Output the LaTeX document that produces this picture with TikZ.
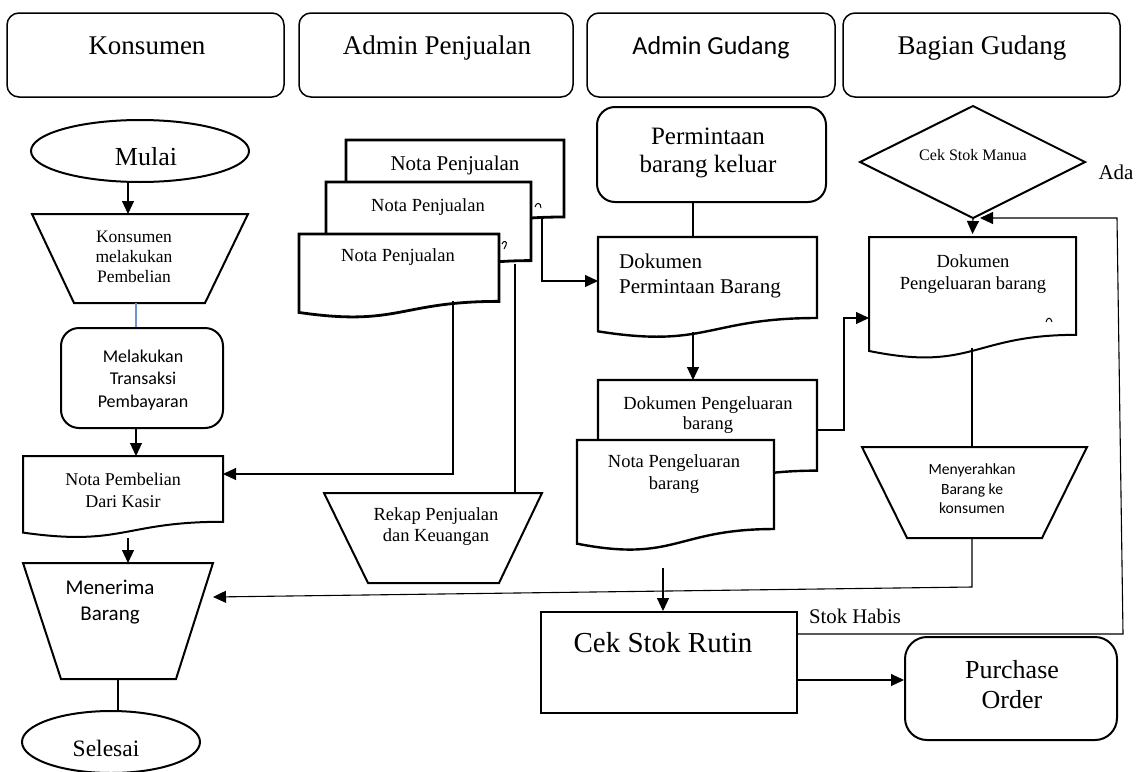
\documentclass[tikz,border=0pt]{standalone}
\usepackage{fontspec}
\setmainfont{Liberation Serif}
\newfontfamily\calfont{Carlito}
\usetikzlibrary{arrows.meta,calc,shapes.geometric}

\definecolor{bluelink}{RGB}{114,147,203}

% document symbol with a wavy bottom edge; the named node covers its flat part
\newcommand\docshape[6][shapeline]{%
  \path[#1] (#3,#4) -- (#5,#4) -- (#5,{#4+0.802*#6})
    .. controls ({(#3+#5)/2},{#4+0.802*#6}) and ({(#3+#5)/2},{#4+1.107*#6}) .. (#3,{#4+0.934*#6}) -- cycle;
  \node[anchorbox, minimum width={(#5-#3)*1pt}, minimum height={0.802*#6*1pt}] (#2) at ({(#3+#5)/2},{#4+0.401*#6}) {};}

% manual-operation symbol (wide top, narrow bottom)
\newcommand\trapshape[7]{%
  \path[shapeline] (#2,#4) -- (#3,#4) -- (#6,#7) -- (#5,#7) -- cycle;
  \node[anchorbox, minimum width={(#3-#2)*1pt}, minimum height={(#7-#4)*1pt}] (#1) at ({(#2+#3)/2},{(#4+#7)/2}) {};}

\tikzset{
  anchorbox/.style={inner sep=0pt, outer sep=0pt, draw=none},
  shapeline/.style={draw=black, line width=2pt, fill=white},
  heavy/.style={draw=black, line width=2.8pt, fill=white},
  header/.style={draw=black, line width=1.5pt, rounded corners=12pt, inner sep=0pt},
  link/.style={draw=black, line width=1.1pt},
  arr/.style={link, -{Triangle[length=13pt,width=12pt]}},
  hdserif/.style={font=\fontsize{27}{32}\selectfont, anchor=base, inner sep=0pt},
  hdsans/.style={font=\calfont\fontsize{26}{31}\selectfont, anchor=base, inner sep=0pt},
  txt/.style={align=center, inner sep=0pt},
  squiggle/.style={draw=black, line width=1pt},
}

\begin{document}
\begin{tikzpicture}[x=1pt, y=-1pt]
\useasboundingbox (0,0) rectangle (1137,771);

% ---------- lane headers ----------
\node[header, minimum width=277pt, minimum height=84pt] (hK)  at (145.5,55) {};
\node[header, minimum width=274pt, minimum height=84pt] (hAP) at (436,55) {};
\node[header, minimum width=248pt, minimum height=84pt] (hAG) at (711,55) {};
\node[header, minimum width=277pt, minimum height=84pt] (hBG) at (981.5,55) {};
\node[hdserif] (hK-t)  at (147,54) {Konsumen};
\node[hdserif] (hAP-t) at (437,54) {Admin Penjualan};
\node[hdsans]  (hAG-t) at (711,54) {Admin Gudang};
\node[hdserif] (hBG-t) at (982,54) {Bagian Gudang};

% ---------- Konsumen ----------
\node[ellipse, shapeline, minimum width=218pt, minimum height=62pt, inner sep=0pt] (mulai) at (140,151) {};
\node[txt, font=\fontsize{26}{30}\selectfont] (mulai-t) at (146,157) {Mulai};
\trapshape{beli}{32}{248}{214}{74}{205}{303}
\node[txt, font=\fontsize{17.5}{20}\selectfont] (beli-t) at (134,257) {Konsumen\\melakukan\\Pembelian};
\node[shapeline, rounded corners=18pt, minimum width=162pt, minimum height=100pt] (bayar) at (142,378) {};
\node[txt, font=\calfont\fontsize{18}{22.5}\selectfont] (bayar-t) at (143,380) {Melakukan\\Transaksi\\Pembayaran};
\docshape{nbeli}{23}{456}{223}{82}
\node[txt, font=\fontsize{18}{22}\selectfont] (nbeli-t) at (123,490) {Nota Pembelian\\Dari Kasir};
\trapshape{terima}{23}{213}{563}{61}{176}{679}
\node[txt, font=\calfont\fontsize{21}{26}\selectfont] (terima-t) at (110,602) {Menerima\\Barang};
\node[ellipse, shapeline, minimum width=178pt, minimum height=62pt, inner sep=0pt] (selesai) at (111,742) {};
\node[txt, font=\fontsize{23.5}{28}\selectfont] (selesai-t) at (106,748) {Selesai};

\draw[arr] (mulai.south -| 128,0) -- (beli.north -| 128,0);
\draw[link, draw=bluelink] (beli.south -| 136,0) -- (bayar.north -| 136,0);
\draw[arr] (bayar.south -| 136,0) -- (nbeli.north -| 136,0);
\draw[arr] (nbeli.south -| 128,0) ++(0,16) -- (terima.north -| 128,0);
\draw[link] (terima.south -| 118,0) -- (selesai.north -| 118,0);

% ---------- Admin Penjualan ----------
\docshape[heavy]{np3}{346}{140}{564}{96}
\node[txt, font=\fontsize{21}{24}\selectfont] (np3-t) at (455,165) {Nota Penjualan};
\draw[squiggle] (535,207) .. controls (536,202) and (541,202) .. (541,208);
\docshape[heavy]{np2}{326}{182}{531}{98}
\node[txt, font=\fontsize{18.5}{22}\selectfont] (np2-t) at (428,207) {Nota Penjualan};
\draw[squiggle] (502,244) .. controls (503,240) and (508,241) .. (506,245) -- (504,249);
\docshape[heavy]{np1}{299}{234}{499}{84}
\node[txt, font=\fontsize{18.5}{22}\selectfont] (np1-t) at (398,257) {Nota Penjualan};
\trapshape{rekap}{324}{542}{493}{368}{499}{583}
\node[txt, font=\fontsize{18.5}{21}\selectfont] (rekap-t) at (436,527) {Rekap Penjualan\\dan Keuangan};

\draw[arr] (np1.south -| 453,0) |- (nbeli.east |- 0,474);
\draw[link] (np2.south -| 515,0) ++(0,3) -- (rekap.north -| 515,0);

% ---------- Admin Gudang ----------
\node[shapeline, rounded corners=18pt, minimum width=229pt, minimum height=95pt] (minta) at (711.5,154.5) {};
\node[txt, font=\fontsize{25}{28}\selectfont] (minta-t) at (708,153) {Permintaan\\barang keluar};
\docshape[shapeline, line width=2.4pt]{dpb}{598}{237}{817}{101}
\node[inner sep=0pt, align=left, anchor=west, font=\fontsize{21}{25}\selectfont] (dpb-t) at (619,276) {Dokumen\\Permintaan Barang};
\docshape[shapeline, line width=2.4pt]{dpk}{598}{380}{817}{113}
\node[txt, font=\fontsize{18.5}{20}\selectfont] (dpk-t) at (708,415) {Dokumen Pengeluaran\\barang};
\docshape[shapeline, line width=2.4pt]{npk}{577}{440}{774}{111}
\node[txt, font=\fontsize{18.5}{22}\selectfont] (npk-t) at (674,474) {Nota Pengeluaran\\barang};

\draw[arr] (np3.south -| 542,0) |- (dpb.west |- 0,281);
\draw[link] (minta.south -| 693,0) -- (dpb.north -| 693,0);
\draw[arr] (dpb.south -| 693,0) ++(0,14) -- (dpk.north -| 693,0);

% ---------- Bagian Gudang ----------
\path[shapeline] (860,162) -- (973,106) -- (1085,162) -- (973,218) -- cycle;
\node[anchorbox, minimum width=225pt, minimum height=112pt] (cek) at (973,162) {};
\node[txt, font=\fontsize{16}{19}\selectfont] (cek-t) at (973,155) {Cek Stok Manua};
\node[txt, font=\fontsize{21}{24}\selectfont] (ada) at (1116,172) {Ada};
\docshape{dbg}{869}{237}{1076}{122}
\node[txt, font=\fontsize{18.5}{22}\selectfont] (dbg-t) at (973,274) {Dokumen\\Pengeluaran barang};
\draw[squiggle] (1046,322) .. controls (1047,317) and (1051,317) .. (1052,322);
\trapshape{serah}{862}{1087}{447}{907}{1042}{538}
\node[txt, font=\calfont\fontsize{15.6}{19.5}\selectfont] (serah-t) at (972,489) {Menyerahkan\\Barang ke\\konsumen};

\draw[arr] (dpk.east |- 0,430) -- ++(27,0) |- (dbg.west |- 0,318);
\draw[arr] (cek.south) -- ([yshift=3pt]dbg.north);
\draw[link] (dbg.south -| 972,0) ++(0,13) -- (serah.north -| 972,0);
\draw[arr] (serah.south -| 972,0) -- ++(0,49) -- (terima.east |- 0,597);

% ---------- stock check ----------
\node[shapeline, minimum width=256pt, minimum height=101pt] (rutin) at (669,662.5) {};
\node[txt, font=\fontsize{29}{33}\selectfont] (rutin-t) at (663,643) {Cek Stok Rutin};
\node[shapeline, rounded corners=22pt, minimum width=212pt, minimum height=103pt] (po) at (1011,688.5) {};
\node[txt, font=\fontsize{26}{30}\selectfont] (po-t) at (1012,685) {Purchase\\Order};
\node[txt, font=\fontsize{20.8}{24}\selectfont] (habis) at (855,616) {Stok Habis};

\draw[arr] (npk.south -| 663,0) ++(0,39) -- (rutin.north -| 663,0);
\draw[arr] (rutin.east |- 0,680) -- (po.west |- 0,680);
\draw[arr] (rutin.east |- 0,634) -- (1123,634) -- (1117,218) -- ([xshift=7pt]cek.south);
\end{tikzpicture}
\end{document}
